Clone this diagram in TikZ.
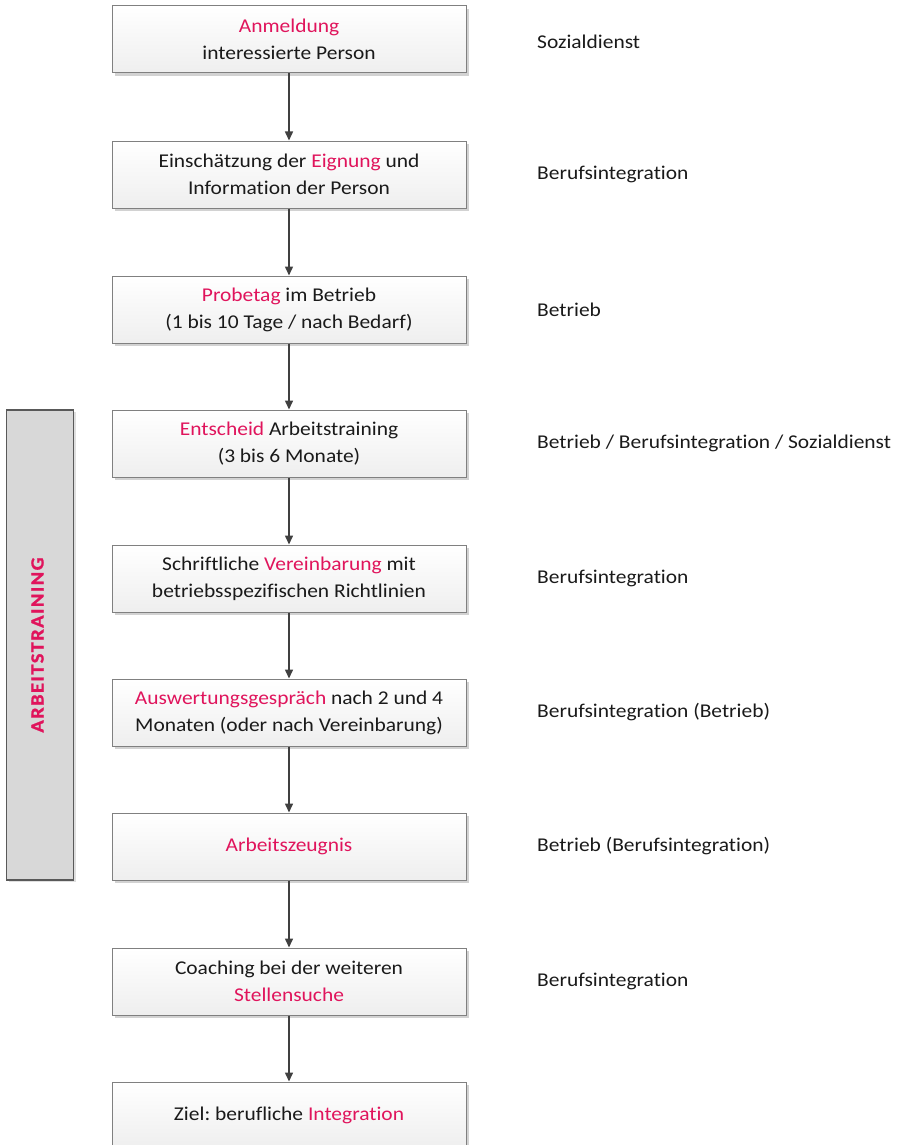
\documentclass[tikz,border=0pt]{standalone}
\usepackage{fontspec}
\setmainfont[FakeStretch=1.1,Ligatures=NoCommon]{Carlito}
\usetikzlibrary{arrows.meta,shadows}
\definecolor{accent}{RGB}{224,20,92}
\definecolor{boxline}{RGB}{128,128,128}
\definecolor{arrowcol}{RGB}{64,64,64}
\definecolor{barfill}{RGB}{216,216,216}
\definecolor{barline}{RGB}{89,89,89}
\definecolor{txt}{RGB}{26,26,26}
\newcommand{\hl}[1]{\textcolor{accent}{#1}}
\frenchspacing
\tikzset{
  stepbox/.style={draw=boxline, line width=1pt, top color=white, bottom color=gray!13,
    minimum width=354pt, minimum height=67pt, inner sep=0pt, align=center,
    text=txt, font=\fontsize{19.5}{27}\selectfont\frenchspacing,
    general shadow={fill=gray!35, shadow xshift=3pt, shadow yshift=-3pt}},
  sidelabel/.style={anchor=west, inner sep=0pt, text=txt, font=\fontsize{19.5}{27}\selectfont},
  flowarrow/.style={draw=arrowcol, line width=1.5pt, -{Triangle[length=9pt,width=8pt]}},
}
\begin{document}
\begin{tikzpicture}[x=1pt,y=-1pt]
\useasboundingbox (0,0) rectangle (907,1145);
% side bar
\node[draw=barline, fill=barfill, line width=1.2pt, minimum width=67pt, minimum height=470pt, inner sep=0pt,
  general shadow={fill=gray!25, shadow xshift=2pt, shadow yshift=-2pt}] (bar) at (40,645) {};
\node[rotate=90, text=accent, inner sep=0pt,
  font=\fontsize{18.5}{20}\selectfont\bfseries\addfontfeature{LetterSpace=8,FakeBold=1.2}] (bartext) at (37.5,645) {ARBEITSTRAINING};
% boxes
\node[stepbox] (b1) at (289,39.5) {\hl{Anmeldung}\\interessierte Person};
\node[stepbox] (b2) at (289,174.5) {Einschätzung der \hl{Eignung} und\\Information der Person};
\node[stepbox] (b3) at (289,309.5) {\hl{Probetag} im Betrieb\\(1 bis 10 Tage / nach Bedarf)};
\node[stepbox] (b4) at (289,443.5) {\hl{Entscheid} Arbeitstraining\\(3 bis 6 Monate)};
\node[stepbox] (b5) at (289,578.5) {Schriftliche \hl{Vereinbarung} mit\\betriebsspezifischen Richtlinien};
\node[stepbox] (b6) at (289,712.5) {\hl{Auswertungsgespräch} nach 2 und 4\\Monaten (oder nach Vereinbarung)};
\node[stepbox] (b7) at (289,846.5) {\hl{Arbeitszeugnis}};
\node[stepbox] (b8) at (289,981.5) {Coaching bei der weiteren\\\hl{Stellensuche}};
\node[stepbox] (b9) at (289,1115.5) {Ziel: berufliche \hl{Integration}};
% arrows
\foreach \a/\b in {b1/b2,b2/b3,b3/b4,b4/b5,b5/b6,b6/b7,b7/b8,b8/b9}
  \draw[flowarrow] (\a.south) -- (\b.north);
% side labels
\node[sidelabel] (l1) at (537,42) {Sozialdienst};
\node[sidelabel] (l2) at (537,174.5) {Berufsintegration};
\node[sidelabel] (l3) at (537,309.5) {Betrieb};
\node[sidelabel] (l4) at (537,443.5) {Betrieb / Berufsintegration / Sozialdienst};
\node[sidelabel] (l5) at (537,578.5) {Berufsintegration};
\node[sidelabel] (l6) at (537,712.5) {Berufsintegration (Betrieb)};
\node[sidelabel] (l7) at (537,846.5) {Betrieb (Berufsintegration)};
\node[sidelabel] (l8) at (537,981.5) {Berufsintegration};
\end{tikzpicture}
\end{document}
